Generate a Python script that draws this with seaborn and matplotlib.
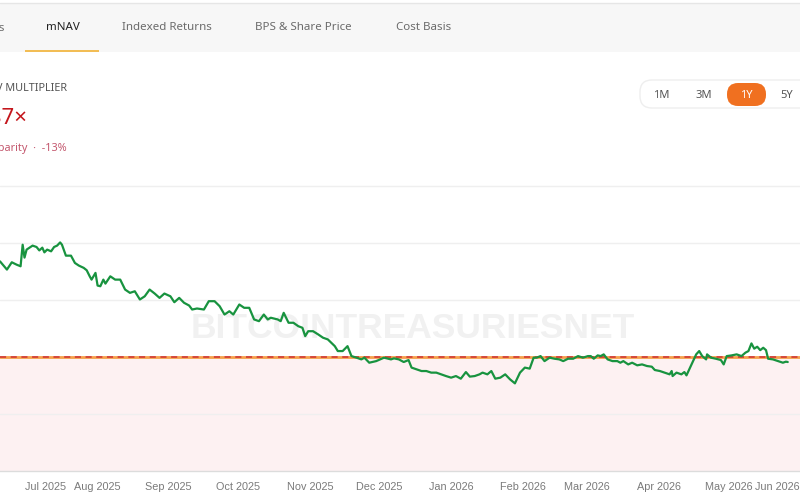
import matplotlib
matplotlib.use("Agg")
import matplotlib.pyplot as plt
import matplotlib.transforms as mtransforms
from matplotlib.patches import Rectangle, FancyBboxPatch
from matplotlib.lines import Line2D
import seaborn as sns
import pandas as pd

# ---------------- data ----------------
start_date = "2025-06-20"
days = [0.0, 3.0, 5.1, 7.2, 8.9, 9.8, 10.6, 11.5, 12.8, 14.1, 15.8, 17.0, 18.3, 19.2, 20.4, 22.1,
        23.4, 24.7, 26.0, 26.8, 28.5, 30.7, 32.4, 34.1, 36.2, 37.5, 38.8, 39.6, 41.3, 42.2, 43.4,
        44.7, 45.6, 47.7, 49.8, 52.0, 54.1, 56.2, 58.3, 60.5, 62.6, 64.7, 66.9, 69.0, 71.1, 73.7,
        75.4, 77.5, 79.6, 81.8, 83.1, 85.2, 88.2, 90.3, 92.8, 95.0, 97.1, 99.2, 100.9, 103.5,
        105.6, 107.8, 109.9, 112.0, 114.1, 115.8, 117.1, 120.1, 121.4, 122.7, 124.8, 126.9, 129.0,
        130.8, 132.0, 133.3, 135.4, 137.6, 139.7, 141.8, 144.8, 146.1, 148.2, 150.3, 152.0, 154.2,
        156.3, 157.6, 159.7, 162.7, 166.1, 169.1, 170.4, 172.5, 174.6, 176.7, 178.0, 180.2, 182.3,
        184.4, 186.5, 188.7, 190.8, 192.9, 195.1, 197.2, 199.3, 201.5, 203.2, 205.3, 207.4, 208.7,
        210.8, 212.5, 214.2, 216.4, 218.5, 220.6, 222.7, 224.9, 227.0, 229.1, 230.8, 232.1, 233.8,
        235.5, 237.7, 239.8, 241.9, 243.6, 245.7, 247.9, 250.0, 252.1, 254.3, 255.5, 256.8, 258.5,
        259.8, 261.1, 262.8, 264.9, 267.0, 268.3, 269.6, 271.7, 273.4, 275.6, 277.7, 279.8, 281.9,
        283.2, 285.4, 287.5, 289.6, 290.5, 290.9, 292.6, 294.7, 296.0, 296.9, 298.1, 299.4, 301.1,
        302.4, 303.7, 305.4, 305.8, 307.5, 309.6, 311.8, 313.0, 314.3, 316.4, 318.6, 320.7, 322.4,
        323.7, 325.0, 326.2, 327.5, 328.8, 330.1, 331.3, 332.2, 334.3, 336.5, 338.6, 339.9, 340.7]
mnav = [1.837, 1.765, 1.829, 1.808, 1.794, 1.983, 1.870, 1.940, 1.957, 1.975, 1.963, 1.933, 1.957,
        1.916, 1.940, 1.925, 1.963, 1.975, 2.003, 1.983, 1.887, 1.887, 1.823, 1.800, 1.780, 1.759,
        1.706, 1.677, 1.736, 1.625, 1.619, 1.677, 1.642, 1.706, 1.677, 1.677, 1.590, 1.561, 1.575,
        1.503, 1.531, 1.590, 1.555, 1.517, 1.555, 1.531, 1.479, 1.517, 1.474, 1.450, 1.415, 1.424,
        1.415, 1.488, 1.488, 1.444, 1.371, 1.400, 1.371, 1.459, 1.430, 1.430, 1.328, 1.313, 1.371,
        1.328, 1.343, 1.328, 1.313, 1.386, 1.299, 1.299, 1.269, 1.255, 1.182, 1.225, 1.225, 1.197,
        1.168, 1.153, 1.094, 1.051, 1.051, 1.094, 1.007, 0.993, 0.978, 0.993, 0.949, 0.963, 0.993,
        0.978, 0.987, 0.978, 0.955, 0.972, 0.906, 0.891, 0.876, 0.876, 0.862, 0.862, 0.847, 0.832,
        0.818, 0.832, 0.809, 0.867, 0.827, 0.832, 0.847, 0.862, 0.847, 0.876, 0.809, 0.818, 0.847,
        0.803, 0.768, 0.862, 0.906, 0.897, 0.993, 0.993, 1.007, 0.963, 0.993, 0.984, 0.978, 0.963,
        0.984, 0.984, 1.007, 0.993, 1.007, 1.007, 0.984, 1.013, 1.007, 1.022, 0.978, 0.963, 0.963,
        0.949, 0.963, 0.934, 0.949, 0.926, 0.934, 0.920, 0.914, 0.885, 0.876, 0.862, 0.847, 0.876,
        0.832, 0.862, 0.847, 0.867, 0.838, 0.891, 0.949, 1.022, 1.051, 1.007, 0.978, 1.022, 0.993,
        0.984, 0.972, 0.934, 1.007, 1.013, 1.022, 1.007, 1.037, 1.051, 1.118, 1.072, 1.089, 1.059,
        1.080, 1.059, 0.984, 0.978, 0.963, 0.949, 0.958, 0.955]

month_starts = ["2025-07-01", "2025-08-01", "2025-09-01", "2025-10-01", "2025-11-01", "2025-12-01",
                "2026-01-01", "2026-02-01", "2026-03-01", "2026-04-01", "2026-05-01", "2026-06-01"]
month_labels = ["Jul 2025", "Aug 2025", "Sep 2025", "Oct 2025", "Nov 2025", "Dec 2025",
                "Jan 2026", "Feb 2026", "Mar 2026", "Apr 2026", "May 2026", "Jun 2026"]
y_grid = [0.5, 1.5, 2.0, 2.5]
parity = 1.0
tabs = ["Holdings", "mNAV", "Indexed Returns", "BPS & Share Price", "Cost Basis"]
ranges = ["1M", "3M", "1Y", "5Y"]
header_label = "mNAV MULTIPLIER"
header_value = "0.87×"
header_sub = "Below parity  ·  -13%"
watermark = "BITCOINTREASURIESNET"

# ---------------- style ----------------
sns.set_theme(style="white")
plt.rcParams["font.family"] = ["Noto Sans", "DejaVu Sans"]

W, H = 800, 500
fig = plt.figure(figsize=(8, 5), dpi=100)
fig.patch.set_facecolor("white")
ident = mtransforms.IdentityTransform()


def fx(x):
    return x / W


def fy(y):
    return 1 - y / H


# tab bar
fig.add_artist(Rectangle((0, H - 52), W, 49, transform=ident, facecolor="#f7f7f7",
                         edgecolor="none", zorder=0))
fig.add_artist(Line2D([0, W], [H - 3, H - 3], transform=ident, color="#e6e6e6", lw=1))
fig.add_artist(Rectangle((25, H - 52), 74, 2.5, transform=ident, facecolor="#f2bd55",
                         edgecolor="none"))
tab_pos = [(5, "right"), (63, "center"), (166.5, "center"), (303.5, "center"), (424, "center")]
for name, (px, ha) in zip(tabs, tab_pos):
    active = name == "mNAV"
    fig.text(fx(px), fy(28), name, ha=ha, va="center", fontsize=8.3,
             fontweight="bold" if active else "semibold",
             color="#222222" if active else "#6b6b6b")

# header texts
fig.text(fx(67), fy(89), header_label, ha="right", va="center", fontsize=7.8,
         fontweight="semibold", color="#555555")
fig.text(fx(28), fy(118), header_value, ha="right", va="center", fontsize=16,
         fontweight="bold", color="#c4161c")
fig.text(fx(67), fy(149), header_sub, ha="right", va="center", fontsize=7.8,
         color="#c4586e")

# range selector
fig.add_artist(FancyBboxPatch((640, H - 108), 200, 28, boxstyle="round,pad=0,rounding_size=12",
                              transform=ident, facecolor="white", edgecolor="#eeeeee", lw=1))
fig.add_artist(FancyBboxPatch((727, H - 106), 39, 23, boxstyle="round,pad=0,rounding_size=11",
                              transform=ident, facecolor="#f07020", edgecolor="none"))
for name, px in zip(ranges, [661, 704, 746.5, 787]):
    sel = name == "1Y"
    fig.text(fx(px), fy(95.5), name, ha="center", va="center", fontsize=8,
             fontweight="bold" if sel else "normal",
             color="white" if sel else "#555555")

# ---------------- main chart ----------------
ax = fig.add_axes([0, 0.058, 1, 0.582])
ax.set_facecolor("none")
ax.set_xlim(0, 340.7)
ax.set_ylim(0, 2.55)

ax.axhspan(0, parity, color="#fdf1f2", lw=0, zorder=0)
for g in y_grid:
    ax.axhline(g, color="#efefef", lw=1, zorder=0.5)

ax.text(fx(413), fy(329), watermark, transform=fig.transFigure, ha="center", va="center",
        fontsize=25.5, fontweight="bold", family=["Liberation Sans", "DejaVu Sans"],
        color="#f1f1f1", zorder=0.8)

ax.axhline(parity, color="#f5a04a", lw=2.0, zorder=2)
ax.axhline(parity, color="#cc2f36", lw=1.1, ls=(0, (4, 3)), zorder=2.1)

df = pd.DataFrame({"day": days, "mnav": mnav})
sns.lineplot(data=df, x="day", y="mnav", ax=ax, color="#18933f", lw=1.6, zorder=3,
             estimator=None, sort=False)

start = pd.Timestamp(start_date)
tick_pos = [(pd.Timestamp(m) - start).days for m in month_starts]
ax.set_xticks(tick_pos)
ax.set_xticklabels(month_labels)
ax.set_yticks([])
ax.set_xlabel("")
ax.set_ylabel("")
ax.tick_params(axis="x", length=0, pad=8, labelsize=7.8, colors="#7a7a7a")
labels = ax.get_xticklabels()
for lab in labels:
    lab.set_family(["Liberation Sans", "DejaVu Sans"])
labels[0].set_ha("left")
labels[-1].set_ha("right")

for side in ["top", "left", "right"]:
    ax.spines[side].set_visible(False)
ax.spines["bottom"].set_color("#dcdcdc")
ax.spines["bottom"].set_linewidth(1)

fig.savefig("out.png", dpi=100, facecolor="white")
